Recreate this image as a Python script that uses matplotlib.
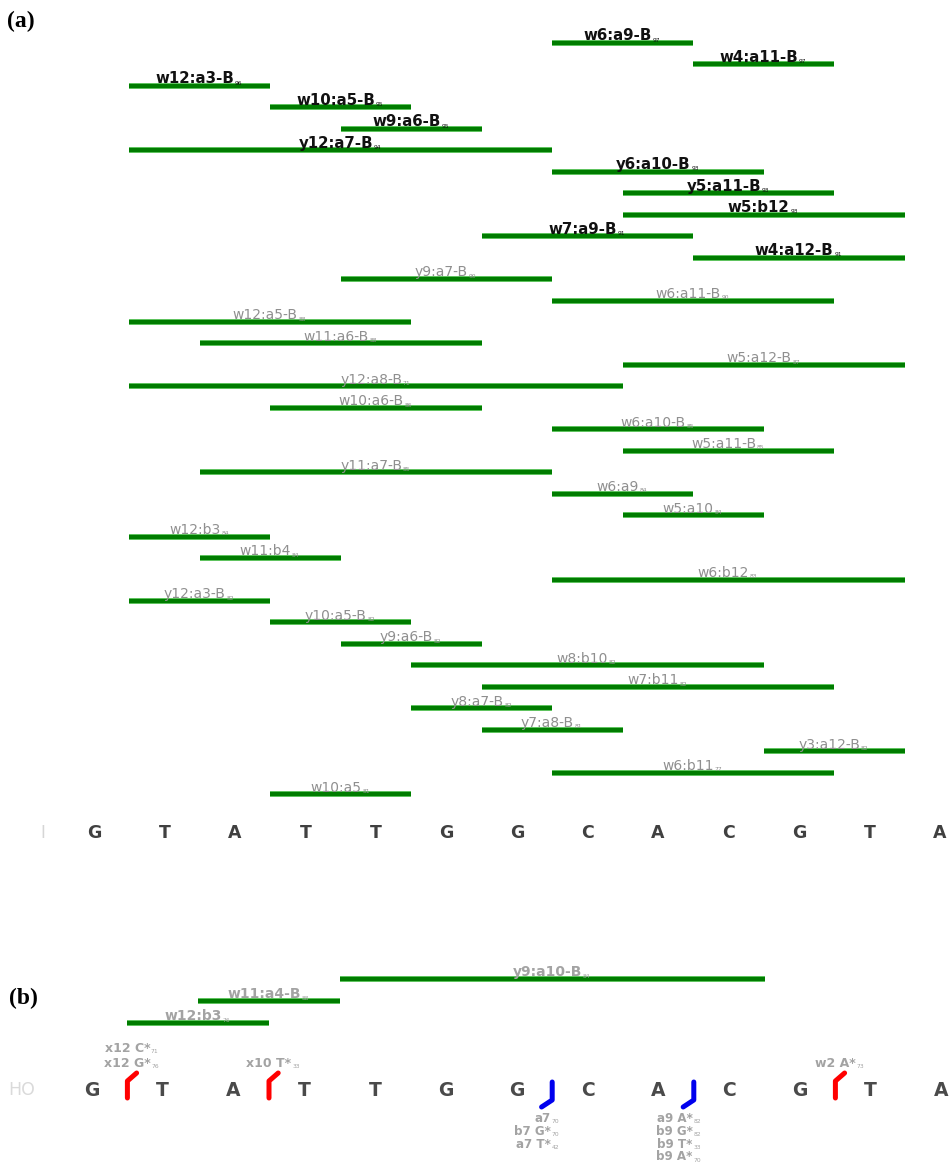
import matplotlib
matplotlib.use("Agg")
import matplotlib.pyplot as plt

# ---------------- data ----------------
sequence = "GTATTGGCACGTA"

# panel (a): fragment label, score, start gap, end gap (gap k lies between base k and k+1)
labels_a = ["w6:a9-B", "w4:a11-B", "w12:a3-B", "w10:a5-B", "w9:a6-B", "y12:a7-B",
            "y6:a10-B", "y5:a11-B", "w5:b12", "w7:a9-B", "w4:a12-B", "y9:a7-B",
            "w6:a11-B", "w12:a5-B", "w11:a6-B", "w5:a12-B", "y12:a8-B", "w10:a6-B",
            "w6:a10-B", "w5:a11-B", "y11:a7-B", "w6:a9", "w5:a10", "w12:b3",
            "w11:b4", "w6:b12", "y12:a3-B", "y10:a5-B", "y9:a6-B", "w8:b10",
            "w7:b11", "y8:a7-B", "y7:a8-B", "y3:a12-B", "w6:b11", "w10:a5"]
scores_a = [97, 97, 96, 95, 95, 94, 93, 93, 93, 91, 91, 90, 90, 88, 88, 87, 71, 86,
            85, 85, 85, 84, 84, 84, 84, 83, 82, 82, 82, 82, 82, 82, 81, 82, 77, 81]
start_a = [7, 9, 1, 3, 4, 1, 7, 8, 8, 6, 9, 4, 7, 1, 2, 8, 1, 3,
           7, 8, 2, 7, 8, 1, 2, 7, 1, 3, 4, 5, 6, 5, 6, 10, 7, 3]
end_a = [9, 11, 3, 5, 6, 7, 10, 11, 12, 9, 12, 7, 11, 5, 6, 12, 8, 6,
         10, 11, 7, 9, 10, 3, 4, 12, 3, 5, 6, 10, 11, 7, 8, 12, 11, 5]
n_bold_a = 11

# panel (b)
labels_b = ["y9:a10-B", "w11:a4-B", "w12:b3"]
scores_b = [84, 88, 76]
start_b = [4, 2, 1]
end_b = [10, 4, 3]

red_gaps = [1, 3, 11]
red_labels = [["x12 C*", "x12 G*"], ["x10 T*"], ["w2 A*"]]
red_scores = [[71, 76], [33], [73]]

blue_gaps = [7, 9]
blue_labels = [["a7", "b7 G*", "a7 T*"], ["a9 A*", "b9 G*", "b9 T*", "b9 A*"]]
blue_scores = [[70, 70, 42], [82, 82, 33, 70]]

# ---------------- figure ----------------
W, H = 952, 1166
fig = plt.figure(figsize=(W / 100, H / 100), dpi=100)

GREEN = "#007c00"
HALO = "#66cc66"
GRAY_A = "#8f8f8f"
GRAY_B = "#a3a3a3"

# panel (a) axes: top 870 px, rows of 21.46 px, first row at 43 px
A_H = 870
row_px_a = 21.46
ax_a = fig.add_axes([0, 1 - A_H / H, 1, A_H / H])
ax_a.set_xlim(1 - 94 / 70.5, 1 + (W - 94) / 70.5)
ax_a.set_ylim((A_H - 43) / row_px_a, -43 / row_px_a)
ax_a.axis("off")

# panel (b) axes: bottom part, rows of 22 px, first bar at 979 px
B_TOP = 870
row_px_b = 22.0
ax_b = fig.add_axes([0, 0, 1, (H - B_TOP) / H])
ax_b.set_xlim(1 - 92 / 70.8, 1 + (W - 92) / 70.8)
ax_b.set_ylim((H - 979) / row_px_b, (B_TOP - 979) / row_px_b)
ax_b.axis("off")


def add_sub(ax, txt, score, color, size, weight="normal"):
    ax.annotate(str(score), xy=(1, 0), xycoords=txt, xytext=(0.6, 0.5),
                textcoords="offset points", ha="left", va="bottom",
                fontsize=size, color=color, fontweight=weight)


def draw_bars(ax, labels, scores, starts, ends, n_bold, gray, fs_bold, fs_norm, bold_all=False):
    for r, (lab, sc, s, e) in enumerate(zip(labels, scores, starts, ends)):
        x0, x1 = s + 0.5, e + 0.5
        ax.hlines(r, x0, x1, color=HALO, lw=4.2, zorder=1)
        ax.hlines(r, x0, x1, color=GREEN, lw=3.1, zorder=2)
        bold = bold_all or r < n_bold
        col = "#111111" if (r < n_bold) else gray
        t = ax.text((x0 + x1) / 2 - 0.07, r - 0.12, lab, ha="center", va="baseline",
                    fontsize=fs_bold if bold else fs_norm,
                    fontweight="bold" if bold else "normal", color=col, zorder=3)
        add_sub(ax, t, sc, col, 4.3)


# ---- panel (a) ----
draw_bars(ax_a, labels_a, scores_a, start_a, end_a, n_bold_a, GRAY_A, 10.8, 10)
seq_row_a = (833 - 43) / row_px_a
ax_a.text(1 - 51 / 70.5, seq_row_a, "I", ha="center", va="center",
          fontsize=12, color="#d6d6d6")
for i, ch in enumerate(sequence, start=1):
    ax_a.text(i, seq_row_a, ch, ha="center", va="center", fontsize=12.5,
              fontweight="bold", color="#404040")
ax_a.text(1 - 87 / 70.5, -22 / row_px_a, "(a)", ha="left", va="center",
          fontsize=17, fontweight="bold", family="Liberation Serif", color="black")

# ---- panel (b) ----
draw_bars(ax_b, labels_b, scores_b, start_b, end_b, 0, GRAY_B, 10, 10, bold_all=True)
seq_row_b = (1090 - 979) / row_px_b
ax_b.text(1 - 70 / 70.8, seq_row_b, "HO", ha="center", va="center", fontsize=12.5,
          color="#dadada")
for i, ch in enumerate(sequence, start=1):
    ax_b.text(i, seq_row_b, ch, ha="center", va="center", fontsize=13.5,
              fontweight="bold", color="#4a4a4a")
ax_b.text(1 - 83 / 70.8, (998 - 979) / row_px_b, "(b)", ha="left", va="center",
          fontsize=17, fontweight="bold", family="Liberation Serif", color="black")

# cleavage marks
red_bot, red_mid, red_top = (1098 - 979) / row_px_b, (1081 - 979) / row_px_b, (1073 - 979) / row_px_b
blue_top, blue_mid, blue_bot = (1082 - 979) / row_px_b, (1100 - 979) / row_px_b, (1107 - 979) / row_px_b
red_step = 15 / row_px_b
blue_step = 12.8 / row_px_b

for g, labs, scs in zip(red_gaps, red_labels, red_scores):
    x = g + 0.5
    ax_b.plot([x, x, x + 0.13], [red_bot, red_mid, red_top], color="#ff0000", lw=3.6,
              solid_capstyle="round", solid_joinstyle="round", zorder=4)
    base = (1067 - 979) / row_px_b
    n = len(labs)
    for k, (lab, sc) in enumerate(zip(labs, scs)):
        y = base - (n - 1 - k) * red_step
        t = ax_b.text(x + 0.0, y, lab, ha="center", va="baseline", fontsize=9,
                      fontweight="bold", color=GRAY_B)
        add_sub(ax_b, t, sc, GRAY_B, 4.3)

for g, labs, scs in zip(blue_gaps, blue_labels, blue_scores):
    x = g + 0.5
    ax_b.plot([x, x, x - 0.15], [blue_top, blue_mid, blue_bot], color="#0000ee", lw=3.6,
              solid_capstyle="round", solid_joinstyle="round", zorder=4)
    base = (1122 - 979) / row_px_b
    for k, (lab, sc) in enumerate(zip(labs, scs)):
        y = base + k * blue_step
        t = ax_b.text(x - 0.02, y, lab, ha="right", va="baseline", fontsize=8.6,
                      fontweight="bold", color=GRAY_B)
        add_sub(ax_b, t, sc, GRAY_B, 4.3)

fig.savefig("out.png", dpi=100, facecolor="white")
